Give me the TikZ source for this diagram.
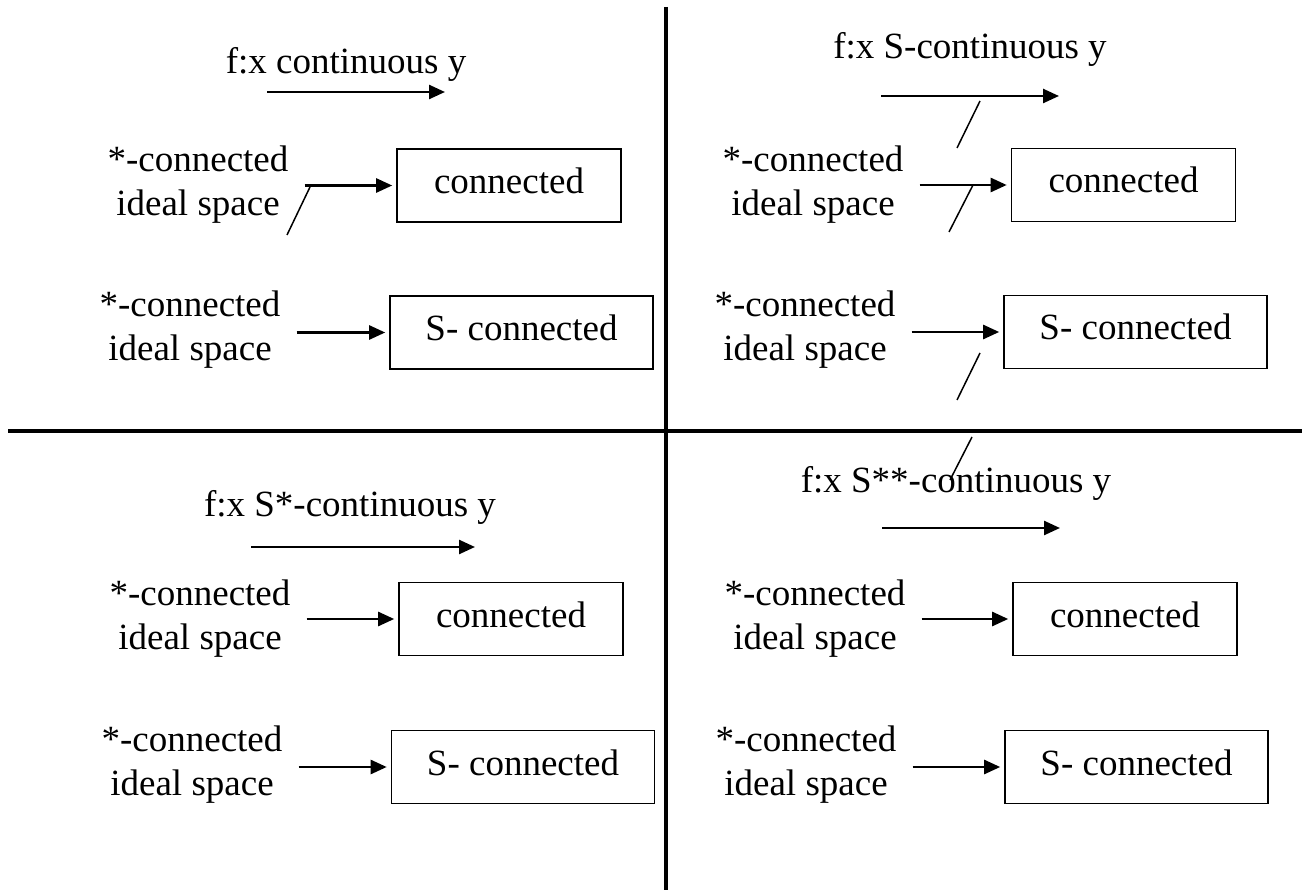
\documentclass[tikz,border=0pt]{standalone}
\usepackage{fontspec}
\setmainfont{Liberation Serif}
\usetikzlibrary{arrows.meta}
\tikzset{
  txt/.style={font=\fontsize{37}{44}\selectfont, inner sep=0pt, anchor=base},
  boxbase/.style={draw, line width=1.6pt, inner sep=0pt, minimum height=73pt,
    text height=21pt, text depth=5pt, font=\fontsize{37}{44}\selectfont},
  cbox/.style={boxbase, minimum width=224pt},
  sbox/.style={boxbase, minimum width=263pt},
  arr/.style={line width=2.5pt, -{Triangle[length=16pt,width=14pt]}},
  link/.style={arr, shorten <=16pt, shorten >=4pt},
  slash/.style={line width=1.5pt},
  divider/.style={line width=3.5pt},
}
\begin{document}
\begin{tikzpicture}[x=1pt,y=-1pt]
\useasboundingbox (0,0) rectangle (1302,890);

% dividers
\coordinate (vtop) at (666,7);
\coordinate (vbot) at (666,890);
\coordinate (hl) at (8,431);
\coordinate (hr) at (1302,431);
\draw[divider] (vtop) -- (vbot);
\draw[divider] (hl) -- (hr);

% ---------- top left ----------
\node[txt] (tlt) at (346,74) {f:x continuous y};
\coordinate (tlta) at (267,92);
\coordinate (tltb) at (445,92);
\draw[arr] (tlta) -- (tltb);

\node[txt] (tl1a) at (198,172) {*-connected};
\node[txt] (tl1b) at (198,216) {ideal space};
\node[cbox] (tl1) at (509,185.5) {connected};
\draw[link] (tl1a.east |- tl1.west) -- (tl1.west);
\draw[slash] (310,187) -- (287,235);

\node[txt] (tl2a) at (190,317) {*-connected};
\node[txt] (tl2b) at (190,361) {ideal space};
\node[sbox] (tl2) at (521.5,332.5) {S- connected};
\draw[link] (tl2a.east |- tl2.west) -- (tl2.west);

% ---------- top right ----------
\node[txt] (trt) at (970,59) {f:x S-continuous y};
\coordinate (trta) at (881,96);
\coordinate (trtb) at (1059,96);
\draw[arr] (trta) -- (trtb);
\draw[slash] (980,101) -- (957,148);

\node[txt] (tr1a) at (813,172) {*-connected};
\node[txt] (tr1b) at (813,216) {ideal space};
\node[cbox] (tr1) at (1123.5,185) {connected};
\draw[link] (tr1a.east |- tr1.west) -- (tr1.west);
\draw[slash] (973,185) -- (949,232);

\node[txt] (tr2a) at (805,317) {*-connected};
\node[txt] (tr2b) at (805,361) {ideal space};
\node[sbox] (tr2) at (1135.5,332) {S- connected};
\draw[link] (tr2a.east |- tr2.west) -- (tr2.west);
\draw[slash] (980,353) -- (957,400);
\draw[slash] (972,437) -- (950,480);

% ---------- bottom left ----------
\node[txt] (blt) at (350,516) {f:x S*-continuous y};
\coordinate (blta) at (251,547);
\coordinate (bltb) at (475,547);
\draw[arr] (blta) -- (bltb);

\node[txt] (bl1a) at (200,605) {*-connected};
\node[txt] (bl1b) at (200,649) {ideal space};
\node[cbox] (bl1) at (511,619) {connected};
\draw[link] (bl1a.east |- bl1.west) -- (bl1.west);

\node[txt] (bl2a) at (192,751) {*-connected};
\node[txt] (bl2b) at (192,795) {ideal space};
\node[sbox] (bl2) at (523,767) {S- connected};
\draw[link] (bl2a.east |- bl2.west) -- (bl2.west);

% ---------- bottom right ----------
\node[txt] (brt) at (956,493) {f:x S**-continuous y};
\coordinate (brta) at (882,528);
\coordinate (brtb) at (1060,528);
\draw[arr] (brta) -- (brtb);

\node[txt] (br1a) at (815,605) {*-connected};
\node[txt] (br1b) at (815,649) {ideal space};
\node[cbox] (br1) at (1125,619) {connected};
\draw[link] (br1a.east |- br1.west) -- (br1.west);

\node[txt] (br2a) at (806,751) {*-connected};
\node[txt] (br2b) at (806,795) {ideal space};
\node[sbox] (br2) at (1136.5,767) {S- connected};
\draw[link] (br2a.east |- br2.west) -- (br2.west);
\end{tikzpicture}
\end{document}
